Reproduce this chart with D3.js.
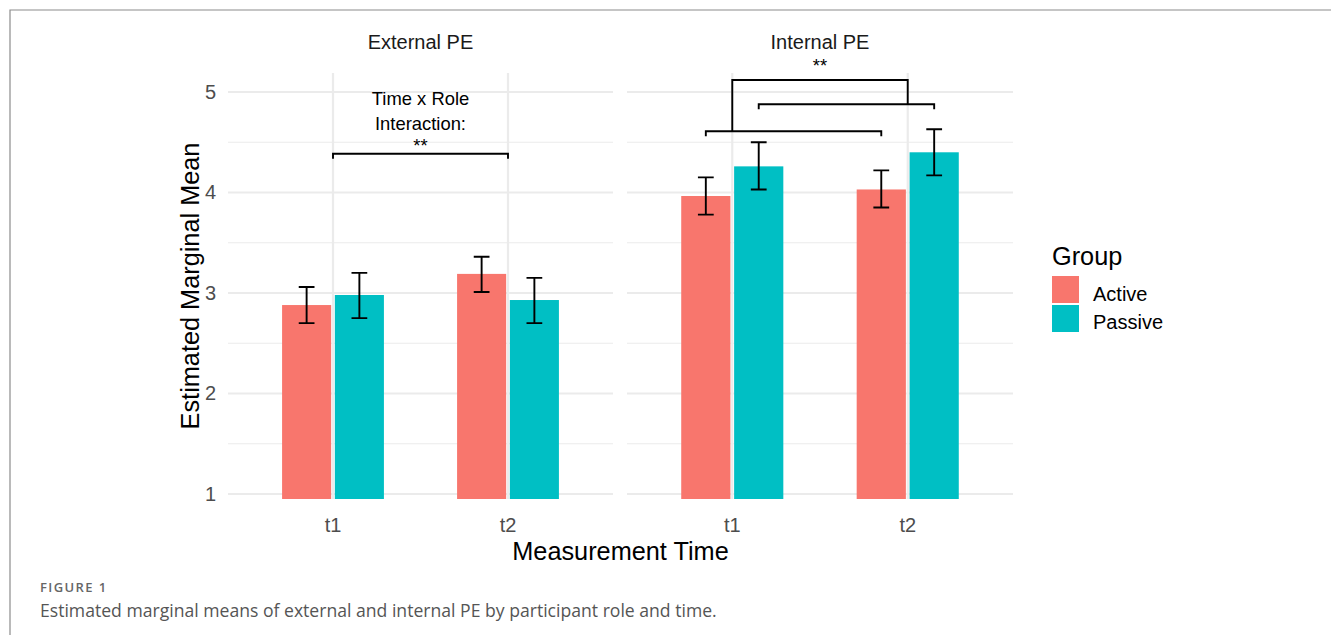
<!DOCTYPE html>
<html><head><meta charset="utf-8">
<script src="https://cdn.jsdelivr.net/npm/d3@7"></script>
<style>body{margin:0;background:#fff}svg{display:block}</style>
</head><body>
<script>
// ---- data ----
const facets = ["External PE", "Internal PE"];
const times = ["t1", "t2"];
const groups = ["Active", "Passive"];
const groupColors = ["#F8766D", "#00BFC4"];
// means [facet][time][group]
const means = {
  "External PE": {t1: [2.88, 2.98], t2: [3.19, 2.93]},
  "Internal PE": {t1: [3.965, 4.26], t2: [4.03, 4.40]}
};
const lower = {
  "External PE": {t1: [2.70, 2.75], t2: [3.01, 2.70]},
  "Internal PE": {t1: [3.78, 4.03], t2: [3.85, 4.17]}
};
const upper = {
  "External PE": {t1: [3.06, 3.20], t2: [3.36, 3.15]},
  "Internal PE": {t1: [4.15, 4.50], t2: [4.22, 4.63]}
};
const yTicks = [1, 2, 3, 4, 5];
const yMinor = [1.5, 2.5, 3.5, 4.5];
// annotation values
const extBracketY = 4.386;
const extTextLines = ["Time x Role", "Interaction:", "**"];
const extTextY = [4.94, 4.69, 4.47];
const intActiveBracketY = 4.61;
const intPassiveBracketY = 4.878;
const intTopBracketY = 5.12;
const intStarY = 5.26;
const bracketTick = 0.05;

// ---- layout ----
const W = 1331, H = 635;
const panelTop = 73, panelBottom = 499;
const panelX = [[228, 613], [627, 1013]];
const font = "'Liberation Sans', Arial, sans-serif";

const svg = d3.select("body").append("svg").attr("width", W).attr("height", H);
svg.append("rect").attr("width", W).attr("height", H).attr("fill", "#fff");
// frame
svg.append("path").attr("d", `M10,${H}V10H${W}`).attr("fill", "none").attr("stroke", "#8c8c8c").attr("stroke-width", 1.2);

const y = d3.scaleLinear().domain([0.95, 5.189]).range([panelBottom, panelTop]);

facets.forEach((f, fi) => {
  const [x0, x1] = panelX[fi];
  const x = d3.scalePoint().domain(times).range([x0, x1]).padding(0.6);
  const step = x.step();
  const dodge = d3.scaleBand().domain(groups).range([-0.3 * step, 0.3 * step]).paddingInner(0.07).paddingOuter(0.03);
  const g = svg.append("g");

  // grid
  g.selectAll(".minor").data(yMinor).join("line")
    .attr("x1", x0).attr("x2", x1).attr("y1", d => y(d)).attr("y2", d => y(d))
    .attr("stroke", "#ebebeb").attr("stroke-width", 1.1);
  g.selectAll(".major").data(yTicks).join("line")
    .attr("x1", x0).attr("x2", x1).attr("y1", d => y(d)).attr("y2", d => y(d))
    .attr("stroke", "#ebebeb").attr("stroke-width", 2.2);
  g.selectAll(".vmajor").data(times).join("line")
    .attr("x1", d => x(d)).attr("x2", d => x(d)).attr("y1", panelTop).attr("y2", panelBottom)
    .attr("stroke", "#ebebeb").attr("stroke-width", 2.2);

  // bars
  const rows = [];
  times.forEach(t => groups.forEach((gr, gi) => rows.push({
    t, gr, gi, m: means[f][t][gi], lo: lower[f][t][gi], hi: upper[f][t][gi]
  })));
  g.selectAll(".bar").data(rows).join("rect")
    .attr("x", d => x(d.t) + dodge(d.gr))
    .attr("width", dodge.bandwidth())
    .attr("y", d => y(d.m))
    .attr("height", d => panelBottom - y(d.m))
    .attr("fill", d => groupColors[d.gi]);

  // error bars
  const cap = 0.045 * step;
  g.selectAll(".eb").data(rows).join("path")
    .attr("d", d => {
      const cx = x(d.t) + dodge(d.gr) + dodge.bandwidth() / 2;
      return `M${cx - cap},${y(d.hi)}H${cx + cap}M${cx},${y(d.hi)}V${y(d.lo)}M${cx - cap},${y(d.lo)}H${cx + cap}`;
    })
    .attr("fill", "none").attr("stroke", "#000").attr("stroke-width", 1.9);

  // x tick labels
  g.selectAll(".xt").data(times).join("text")
    .attr("x", d => x(d)).attr("y", 525).attr("text-anchor", "middle").attr("dominant-baseline", "central")
    .attr("font-family", font).attr("font-size", 20).attr("fill", "#4d4d4d").text(d => d);

  // facet title
  g.append("text").attr("x", (x0 + x1) / 2).attr("y", 42).attr("text-anchor", "middle")
    .attr("dominant-baseline", "central").attr("font-family", font).attr("font-size", 20).attr("fill", "#1a1a1a").text(f);

  const bx = (t, gr) => x(t) + dodge(gr) + dodge.bandwidth() / 2;
  const bs = {fill: "none", stroke: "#000", "stroke-width": 1.9};
  const applyS = sel => { Object.entries(bs).forEach(([k, v]) => sel.attr(k, v)); return sel; };

  if (fi === 0) {
    applyS(g.append("path").attr("d",
      `M${x("t1")},${y(extBracketY - bracketTick)}V${y(extBracketY)}H${x("t2")}V${y(extBracketY - bracketTick)}`));
    g.selectAll(".ann").data(extTextLines).join("text")
      .attr("x", (x("t1") + x("t2")) / 2).attr("y", (d, i) => y(extTextY[i]))
      .attr("text-anchor", "middle").attr("dominant-baseline", "central")
      .attr("font-family", font).attr("font-size", 18.4).attr("fill", "#000").text(d => d);
  } else {
    const a1 = bx("t1", "Active"), a2 = bx("t2", "Active");
    const p1 = bx("t1", "Passive"), p2 = bx("t2", "Passive");
    applyS(g.append("path").attr("d",
      `M${a1},${y(intActiveBracketY - bracketTick)}V${y(intActiveBracketY)}H${a2}V${y(intActiveBracketY - bracketTick)}`));
    applyS(g.append("path").attr("d",
      `M${p1},${y(intPassiveBracketY - bracketTick)}V${y(intPassiveBracketY)}H${p2}V${y(intPassiveBracketY - bracketTick)}`));
    applyS(g.append("path").attr("d",
      `M${x("t1")},${y(intActiveBracketY)}V${y(intTopBracketY)}H${x("t2")}V${y(intPassiveBracketY)}`));
    g.append("text").attr("x", (x("t1") + x("t2")) / 2).attr("y", y(intStarY))
      .attr("text-anchor", "middle").attr("dominant-baseline", "central")
      .attr("font-family", font).attr("font-size", 18.4).attr("fill", "#000").text("**");
  }
});

// y tick labels
svg.selectAll(".yt").data(yTicks).join("text")
  .attr("x", 216).attr("y", d => y(d)).attr("text-anchor", "end").attr("dominant-baseline", "central")
  .attr("font-family", font).attr("font-size", 20).attr("fill", "#4d4d4d").text(d => d);

// axis titles
svg.append("text").attr("transform", `translate(190,${(panelTop + panelBottom) / 2}) rotate(-90)`)
  .attr("text-anchor", "middle").attr("dominant-baseline", "central")
  .attr("font-family", font).attr("font-size", 25.3).attr("fill", "#000").text("Estimated Marginal Mean");
svg.append("text").attr("x", (panelX[0][0] + panelX[1][1]) / 2).attr("y", 551)
  .attr("text-anchor", "middle").attr("dominant-baseline", "central")
  .attr("font-family", font).attr("font-size", 25.3).attr("fill", "#000").text("Measurement Time");

// legend
const lg = svg.append("g");
lg.append("text").attr("x", 1052).attr("y", 256).attr("dominant-baseline", "central")
  .attr("font-family", font).attr("font-size", 25.3).attr("fill", "#000").text("Group");
groups.forEach((gr, i) => {
  lg.append("rect").attr("x", 1052).attr("y", 276 + i * 29).attr("width", 27).attr("height", 27).attr("fill", groupColors[i]);
  lg.append("text").attr("x", 1093).attr("y", 293.5 + i * 28.5).attr("dominant-baseline", "central")
    .attr("font-family", font).attr("font-size", 20).attr("fill", "#000").text(gr);
});

// caption
svg.append("text").attr("x", 40).attr("y", 587).attr("dominant-baseline", "central")
  .attr("font-family", "'Open Sans', sans-serif").attr("font-size", 13).attr("font-weight", 600)
  .attr("letter-spacing", 1.4)
  .attr("fill", "#666").text("FIGURE 1");
svg.append("text").attr("x", 40).attr("y", 610).attr("dominant-baseline", "central")
  .attr("font-family", "'Open Sans', sans-serif").attr("font-size", 17.6)
  .attr("fill", "#555").text("Estimated marginal means of external and internal PE by participant role and time.");
</script>
</body></html>
